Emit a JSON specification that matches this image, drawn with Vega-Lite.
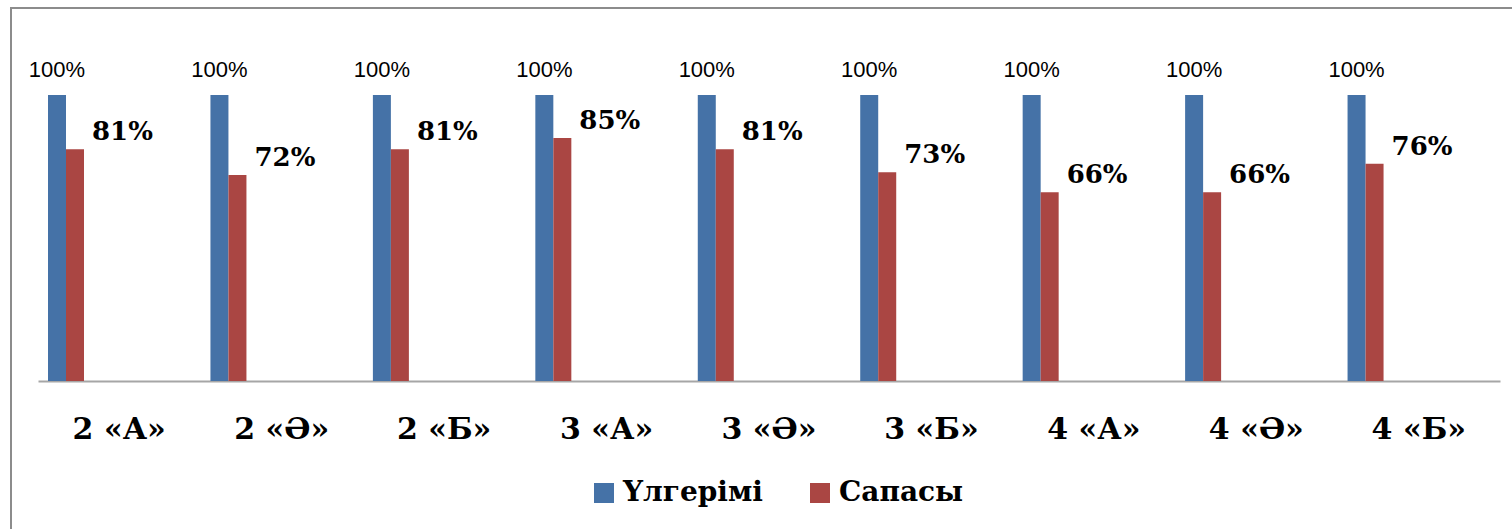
{
  "$schema": "https://vega.github.io/schema/vega-lite/v6.json",
  "width": 1511,
  "height": 531,
  "autosize": {"type": "none"},
  "padding": {"left": 11, "top": 8, "right": -10, "bottom": -10},
  "background": "white",
  "config": {"view": {"stroke": "#8C8C8C", "strokeWidth": 2}},
  "data": {
    "values": [
      {"class": "2 «А»", "series": "Үлгерімі", "value": 1.0},
      {"class": "2 «А»", "series": "Сапасы", "value": 0.81},
      {"class": "2 «Ә»", "series": "Үлгерімі", "value": 1.0},
      {"class": "2 «Ә»", "series": "Сапасы", "value": 0.72},
      {"class": "2 «Б»", "series": "Үлгерімі", "value": 1.0},
      {"class": "2 «Б»", "series": "Сапасы", "value": 0.81},
      {"class": "3 «А»", "series": "Үлгерімі", "value": 1.0},
      {"class": "3 «А»", "series": "Сапасы", "value": 0.85},
      {"class": "3 «Ә»", "series": "Үлгерімі", "value": 1.0},
      {"class": "3 «Ә»", "series": "Сапасы", "value": 0.81},
      {"class": "3 «Б»", "series": "Үлгерімі", "value": 1.0},
      {"class": "3 «Б»", "series": "Сапасы", "value": 0.73},
      {"class": "4 «А»", "series": "Үлгерімі", "value": 1.0},
      {"class": "4 «А»", "series": "Сапасы", "value": 0.66},
      {"class": "4 «Ә»", "series": "Үлгерімі", "value": 1.0},
      {"class": "4 «Ә»", "series": "Сапасы", "value": 0.66},
      {"class": "4 «Б»", "series": "Үлгерімі", "value": 1.0},
      {"class": "4 «Б»", "series": "Сапасы", "value": 0.76}
    ]
  },
  "encoding": {
    "x": {
      "field": "class",
      "type": "nominal",
      "sort": null,
      "scale": {"range": [27, 1489], "paddingInner": 0, "paddingOuter": 0},
      "axis": {
        "title": null,
        "orient": "bottom",
        "offset": -158,
        "ticks": false,
        "tickSize": 0,
        "domainColor": "#A6A6A6",
        "domainWidth": 2,
        "labelAngle": 0,
        "labelFont": "DejaVu Serif",
        "labelFontWeight": "bold",
        "labelFontSize": 30,
        "labelColor": "black",
        "labelBaseline": "alphabetic",
        "labelPadding": 57
      }
    },
    "xOffset": {
      "field": "series",
      "sort": ["Үлгерімі", "Сапасы"],
      "scale": {"range": [10, 46], "paddingInner": 0, "paddingOuter": 0}
    },
    "y": {
      "field": "value",
      "type": "quantitative",
      "scale": {"domain": [0, 1], "range": [373, 87], "nice": false},
      "axis": null
    }
  },
  "layer": [
    {
      "mark": {"type": "bar"},
      "encoding": {
        "y2": {"datum": 0},
        "color": {
          "field": "series",
          "type": "nominal",
          "scale": {"domain": ["Үлгерімі", "Сапасы"], "range": ["#4572A7", "#AA4643"]},
          "legend": {
            "title": null,
            "orient": "none",
            "legendX": 579,
            "legendY": 471,
            "direction": "horizontal",
            "padding": 0,
            "symbolType": "square",
            "symbolSize": 400,
            "symbolStrokeWidth": 0,
            "labelFont": "DejaVu Serif",
            "labelFontWeight": "bold",
            "labelFontSize": 28,
            "labelColor": "black",
            "labelOffset": 5,
            "labelLimit": 300,
            "columnPadding": 43
          }
        }
      }
    },
    {
      "transform": [{"filter": "datum.series === 'Үлгерімі'"}],
      "mark": {
        "type": "text",
        "font": "Liberation Sans",
        "fontSize": 22,
        "baseline": "alphabetic",
        "dy": -18,
        "color": "black"
      },
      "encoding": {"text": {"field": "value", "format": ".0%"}}
    },
    {
      "transform": [{"filter": "datum.series === 'Сапасы'"}],
      "mark": {
        "type": "text",
        "font": "DejaVu Serif",
        "fontWeight": "bold",
        "fontSize": 26,
        "align": "left",
        "baseline": "alphabetic",
        "dx": 17,
        "dy": -9,
        "color": "black"
      },
      "encoding": {"text": {"field": "value", "format": ".0%"}}
    }
  ]
}
